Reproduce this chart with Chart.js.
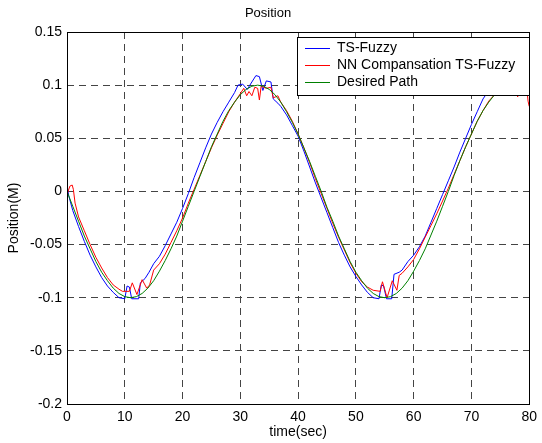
<!DOCTYPE html>
<html>
<head>
<meta charset="utf-8">
<script src="https://cdn.jsdelivr.net/npm/chart.js@4"></script>
<style>
  body { margin: 0; background: #fff; }
  canvas { display: block; }
</style>
</head>
<body>
<canvas id="posChart" width="542" height="443"></canvas>
<script>
// Werte
const seriesNames = ["TS-Fuzzy", "NN Compansation TS-Fuzzy", "Desired Path"];

const desiredTime = Array.from({ length: 81 }, (_, i) => i);
const desiredPos = [
  0, -0.014, -0.028, -0.042, -0.054, -0.066, -0.076, -0.084, -0.091, -0.096,
  -0.099, -0.100, -0.099, -0.096, -0.091, -0.084, -0.075, -0.065, -0.054, -0.042,
  -0.028, -0.014, 0.000, 0.014, 0.028, 0.042, 0.054, 0.066, 0.076, 0.084,
  0.091, 0.096, 0.099, 0.100, 0.099, 0.096, 0.091, 0.084, 0.075, 0.065,
  0.054, 0.041, 0.028, 0.014, 0.000, -0.015, -0.028, -0.042, -0.054, -0.066,
  -0.076, -0.084, -0.091, -0.096, -0.099, -0.100, -0.099, -0.096, -0.091, -0.084,
  -0.075, -0.065, -0.054, -0.041, -0.028, -0.014, 0.000, 0.015, 0.029, 0.042,
  0.054, 0.066, 0.076, 0.084, 0.091, 0.096, 0.099, 0.100, 0.099, 0.096, 0.091
];

const fuzzyTime = [
  0, 0.3, 1, 2, 3, 4, 5, 6, 7, 8, 9, 10, 10.4, 10.8, 11.2, 12.4, 12.7, 13.5, 14.2,
  15, 16, 17, 18, 19, 20, 21, 22, 23, 24, 25, 26, 27, 28, 29, 29.6, 30.4, 31.2,
  32, 32.7, 33.3, 33.9, 34.5, 35.3, 35.7, 36.5, 37, 38, 39, 40, 41, 42, 43, 44,
  45, 46, 47, 48, 49, 50, 51, 52, 53, 54, 54.4, 54.8, 55.3, 56.2, 56.6, 57.5,
  58, 59, 60, 61, 62, 63, 64, 65, 66, 67, 68, 69, 70, 71, 72, 73, 74, 75, 76,
  77, 78, 78.8, 79.2, 79.6, 80
];
const fuzzyPos = [
  0.006, -0.004, -0.018, -0.033, -0.047, -0.060, -0.071, -0.081, -0.089, -0.095,
  -0.100, -0.101, -0.089, -0.090, -0.101, -0.101, -0.086, -0.082, -0.076,
  -0.068, -0.061, -0.051, -0.040, -0.029, -0.016, -0.002, 0.013, 0.027, 0.041,
  0.054, 0.065, 0.075, 0.084, 0.093, 0.100, 0.101, 0.096,
  0.103, 0.109, 0.108, 0.095, 0.104, 0.103, 0.087, 0.083, 0.080, 0.072, 0.062,
  0.052, 0.038, 0.023, 0.008, -0.006,
  -0.020, -0.034, -0.048, -0.060, -0.071, -0.080, -0.088, -0.095, -0.100, -0.101,
  -0.088, -0.089, -0.101, -0.101, -0.078, -0.076,
  -0.074, -0.066, -0.060, -0.052, -0.042, -0.029, -0.016, -0.003, 0.010, 0.023,
  0.037, 0.050, 0.063, 0.075, 0.087, 0.095, 0.100, 0.102, 0.103,
  0.104, 0.100, 0.097, 0.090, 0.098, 0.097
];

const nnTime = [
  0, 0.5, 0.9, 1.1, 1.4, 2, 3, 4, 5, 6, 7, 8, 9, 9.6, 10.8, 11.3, 12.1, 13, 13.8,
  14.3, 15, 16, 17, 18, 19, 20, 21, 22, 23, 24, 25, 26, 27, 28, 29, 30, 30.6,
  31.1, 31.5, 32, 32.5, 33, 33.3, 33.6, 34.5, 35.3, 35.7, 36.5, 37, 38, 39, 40,
  41, 42, 43, 44, 45, 46, 47, 48, 49, 50, 51, 52, 53, 54.2, 54.6, 55.4, 56.3,
  57.1, 57.5, 58, 59, 60, 61, 62, 63, 64, 65, 66, 67, 68, 69, 70, 71, 72, 73,
  74, 75, 76, 77, 77.8, 78, 78.3, 79, 79.6, 79.8, 80
];
const nnPos = [
  -0.003, 0.005, 0.006, 0.002, -0.011, -0.024, -0.037, -0.050, -0.062, -0.072,
  -0.081, -0.088, -0.092, -0.094, -0.094, -0.086, -0.097, -0.083, -0.091,
  -0.088, -0.074, -0.068, -0.059, -0.048, -0.037, -0.025, -0.011, 0.002, 0.015,
  0.028, 0.041, 0.053, 0.064, 0.075, 0.084, 0.092, 0.097,
  0.090, 0.094, 0.090, 0.098, 0.097, 0.086, 0.099, 0.097, 0.098, 0.088, 0.090,
  0.084, 0.076, 0.066, 0.054,
  0.041, 0.027, 0.012, -0.002, -0.016, -0.030, -0.043, -0.055, -0.067, -0.077,
  -0.085, -0.090, -0.093, -0.094, -0.085, -0.100, -0.084,
  -0.093, -0.079, -0.077, -0.071, -0.064, -0.054, -0.043, -0.032, -0.021, -0.009,
  0.003, 0.016, 0.029, 0.042, 0.054, 0.066, 0.076, 0.085,
  0.091, 0.096, 0.098, 0.099, 0.095, 0.089, 0.098, 0.099, 0.096, 0.085, 0.080
];

const xTickValues = [0, 10, 20, 30, 40, 50, 60, 70, 80];
const xTickLabels = ["0", "10", "20", "30", "40", "50", "60", "70", "80"];
const yTickValues = [-0.2, -0.15, -0.1, -0.05, 0, 0.05, 0.1, 0.15];
const yTickLabels = ["-0.2", "-0.15", "-0.1", "-0.05", "0", "0.05", "0.1", "0.15"];

const FONT = "'Liberation Sans', Arial, Helvetica, sans-serif";

function paare(t, y) {
  return t.map((x, i) => ({ x: x, y: y[i] }));
}

// Rahmen um die Achsen (wie bei MATLAB)
const rahmenPlugin = {
  id: "rahmen",
  afterDatasetsDraw(chart) {
    const { ctx, chartArea: a } = chart;
    ctx.save();
    ctx.strokeStyle = "#000";
    ctx.lineWidth = 1;
    ctx.strokeRect(Math.round(a.left) + 0.5, Math.round(a.top) + 0.5,
      Math.round(a.right - a.left), Math.round(a.bottom - a.top));
    ctx.restore();
  }
};

// Legende innerhalb des Plotbereichs oben rechts
const legendePlugin = {
  id: "legende",
  afterDraw(chart) {
    const ctx = chart.ctx;
    const x0 = 297.5, y0 = 37.5, w = 232, h = 58;
    ctx.save();
    ctx.fillStyle = "#fff";
    ctx.fillRect(x0, y0, w, h);
    ctx.strokeStyle = "#000";
    ctx.lineWidth = 1;
    ctx.strokeRect(x0, y0, w, h);
    ctx.font = "14px " + FONT;
    ctx.textBaseline = "middle";
    chart.data.datasets.forEach((ds, i) => {
      const yy = 48.5 + i * 17;
      ctx.strokeStyle = ds.borderColor;
      ctx.beginPath();
      ctx.moveTo(305, yy);
      ctx.lineTo(330, yy);
      ctx.stroke();
      ctx.fillStyle = "#000";
      ctx.fillText(ds.label, 337, yy);
    });
    ctx.restore();
  }
};

const gitterFarbe = "#444";

new Chart(document.getElementById("posChart"), {
  type: "line",
  data: {
    datasets: [
      { label: seriesNames[0], data: paare(fuzzyTime, fuzzyPos), borderColor: "#0000ff", order: 2 },
      { label: seriesNames[1], data: paare(nnTime, nnPos), borderColor: "#ff0000", order: 1 },
      { label: seriesNames[2], data: paare(desiredTime, desiredPos), borderColor: "#008000", order: 0 }
    ]
  },
  options: {
    responsive: false,
    animation: false,
    layout: { padding: { left: 0, right: 6, top: 0, bottom: 0 } },
    elements: {
      line: { borderWidth: 1, tension: 0, fill: false },
      point: { radius: 0 }
    },
    plugins: {
      legend: { display: false },
      tooltip: { enabled: false },
      title: {
        display: true,
        text: "Position",
        color: "#000",
        font: { family: FONT, size: 13, weight: "normal" },
        padding: { top: 6, bottom: 10.4 }
      }
    },
    scales: {
      x: {
        type: "linear",
        min: 0,
        max: 80,
        afterBuildTicks: s => { s.ticks = xTickValues.map(v => ({ value: v })); },
        afterFit: s => { s.height = 39; },
        ticks: {
          color: "#000",
          padding: 5,
          maxRotation: 0,
          font: { family: FONT, size: 14 },
          callback: (v, i) => xTickLabels[i]
        },
        grid: {
          color: gitterFarbe,
          drawTicks: false
        },
        border: { display: false, dash: [7, 5] },
        title: {
          display: true,
          text: "time(sec)",
          color: "#000",
          font: { family: FONT, size: 14 },
          padding: { top: 0, bottom: 2 }
        }
      },
      y: {
        min: -0.2,
        max: 0.15,
        afterBuildTicks: s => { s.ticks = yTickValues.map(v => ({ value: v })); },
        afterFit: s => { s.width = 67; },
        ticks: {
          color: "#000",
          padding: 5,
          font: { family: FONT, size: 14 },
          callback: (v, i) => yTickLabels[i]
        },
        grid: {
          color: gitterFarbe,
          drawTicks: false
        },
        border: { display: false, dash: [7, 5] },
        title: {
          display: true,
          text: "Position(M)",
          color: "#000",
          font: { family: FONT, size: 14 },
          padding: { top: 6, bottom: 0 }
        }
      }
    }
  },
  plugins: [rahmenPlugin, legendePlugin]
});
</script>
</body>
</html>
